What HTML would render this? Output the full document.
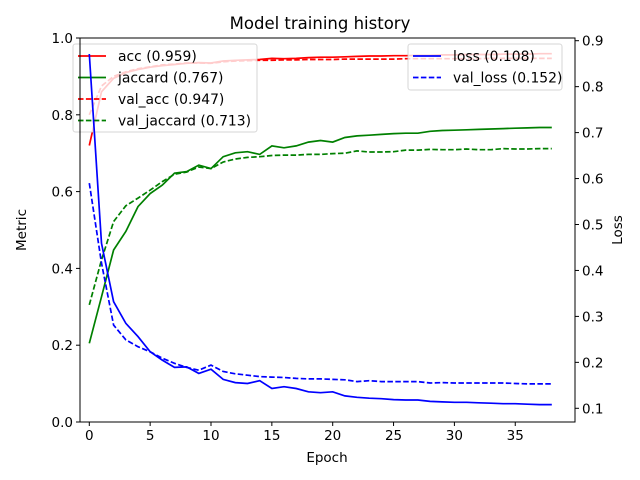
<!DOCTYPE html>
<html><head><meta charset="utf-8"><style>
body{margin:0;background:#fff;}
svg{display:block;font-family:"DejaVu Sans","Liberation Sans",sans-serif;}
</style></head><body>
<svg id="chart" width="640" height="480" viewBox="0 0 640 480">
<rect width="640" height="480" fill="#fff"/>
<text x="320" y="29" font-size="16.5" text-anchor="middle">Model training history</text>
<text x="327" y="462" font-size="13.5" text-anchor="middle">Epoch</text>
<text transform="translate(26,230) rotate(-90)" font-size="13.5" text-anchor="middle">Metric</text>
<text transform="translate(622,230) rotate(-90)" font-size="13.5" text-anchor="middle">Loss</text>
<g id="plot"></g>
</svg>
<script>
const epochs=[...Array(39).keys()];
const acc=[0.72,0.86,0.895,0.91,0.918,0.924,0.928,0.931,0.934,0.936,0.935,0.94,0.942,0.943,0.944,0.947,0.946,0.947,0.949,0.95,0.95,0.951,0.952,0.953,0.953,0.954,0.954,0.955,0.955,0.956,0.956,0.957,0.957,0.957,0.958,0.958,0.958,0.959,0.959];
const valAcc=[0.8,0.875,0.9,0.912,0.92,0.925,0.93,0.932,0.935,0.935,0.934,0.938,0.94,0.941,0.942,0.942,0.943,0.943,0.944,0.944,0.944,0.945,0.945,0.945,0.945,0.945,0.946,0.946,0.946,0.946,0.946,0.946,0.946,0.947,0.947,0.947,0.947,0.947,0.947];
const jaccard=[0.205,0.326,0.448,0.496,0.561,0.595,0.617,0.648,0.652,0.669,0.66,0.691,0.701,0.704,0.697,0.719,0.714,0.719,0.729,0.733,0.729,0.741,0.745,0.747,0.749,0.751,0.752,0.752,0.757,0.759,0.76,0.761,0.762,0.763,0.764,0.765,0.766,0.767,0.767];
const valJaccard=[0.305,0.422,0.522,0.563,0.583,0.604,0.626,0.645,0.651,0.664,0.66,0.677,0.685,0.689,0.691,0.694,0.695,0.695,0.697,0.697,0.699,0.7,0.706,0.703,0.703,0.704,0.708,0.708,0.71,0.709,0.709,0.711,0.709,0.709,0.712,0.711,0.711,0.712,0.712];
const loss=[0.871,0.459,0.332,0.285,0.256,0.223,0.205,0.189,0.19,0.176,0.185,0.163,0.156,0.154,0.16,0.143,0.147,0.143,0.136,0.134,0.136,0.127,0.124,0.122,0.121,0.119,0.118,0.118,0.115,0.114,0.113,0.113,0.112,0.111,0.110,0.110,0.109,0.108,0.108];
const valLoss=[0.59,0.416,0.281,0.249,0.234,0.223,0.209,0.198,0.189,0.183,0.194,0.18,0.175,0.172,0.169,0.168,0.167,0.165,0.164,0.164,0.163,0.162,0.158,0.16,0.158,0.158,0.158,0.158,0.155,0.156,0.155,0.155,0.155,0.155,0.155,0.154,0.153,0.153,0.153];
const xTicks=[0,5,10,15,20,25,30,35];
const yLeftTicks=[0,0.2,0.4,0.6,0.8,1.0];
const yRightTicks=[0.1,0.2,0.3,0.4,0.5,0.6,0.7,0.8,0.9];

const L=80,R=575,T=38,B=422;
const xS=v=>89.3+v*12.17;
const yL=v=>B-v*384;
const yR=v=>408.3-(v-0.1)*459.5;
const NS='http://www.w3.org/2000/svg';
const g=document.getElementById('plot');
function mk(tag,attrs,parent){const e=document.createElementNS(NS,tag);for(const k in attrs)e.setAttribute(k,attrs[k]);(parent||g).appendChild(e);return e;}
function line(data,ys,color,dash,name){
  const p=mk('polyline',{points:data.map((v,i)=>xS(epochs[i]).toFixed(1)+','+ys(v).toFixed(1)).join(' '),fill:'none',stroke:color,'stroke-width':1.7,'stroke-dasharray':dash?'5.5,2.4':'none'});
  
  
}
function legend(x,y,w,h,items,name){
  const lg=mk('g',{});
  
  
  mk('rect',{x:x,y:y,width:w,height:h,rx:2.5,fill:'#fff','fill-opacity':0.8,stroke:'#ccc','stroke-opacity':0.8},lg);
  items.forEach((it,i)=>{
    const cy=y+12+i*21.5;
    const l=mk('line',{x1:x+5,x2:x+33,y1:cy,y2:cy,stroke:it[1],'stroke-width':1.7,'stroke-dasharray':it[2]?'5.5,2.4':'none'},lg);
    
    
    const t=mk('text',{x:x+45,y:cy+5,'font-size':13.9},lg);
    t.textContent=it[0];
    
    
  });
}
line(acc,yL,'red',false,'acc-line');
line(jaccard,yL,'green',false,'jaccard-line');
line(valAcc,yL,'red',true,'val-acc-line');
line(valJaccard,yL,'green',true,'val-jaccard-line');
legend(73,44,184,88,[['acc (0.959)','red',false],['jaccard (0.767)','green',false],['val_acc (0.947)','red',true],['val_jaccard (0.713)','green',true]],'metric-legend');
line(loss,yR,'blue',false,'loss-line');
line(valLoss,yR,'blue',true,'val-loss-line');
legend(408,44,154,46,[['loss (0.108)','blue',false],['val_loss (0.152)','blue',true]],'loss-legend');
const fr=mk('rect',{x:L,y:T,width:R-L,height:B-T,fill:'none',stroke:'#000','stroke-width':1});


xTicks.forEach(v=>{
  mk('line',{x1:xS(v),x2:xS(v),y1:B,y2:B+4,stroke:'#000'});
  const t=mk('text',{x:xS(v),y:B+18,'font-size':13.5,'text-anchor':'middle'});t.textContent=v;
  
  
});
yLeftTicks.forEach(v=>{
  mk('line',{x1:L-4,x2:L,y1:yL(v),y2:yL(v),stroke:'#000'});
  const t=mk('text',{x:L-7,y:yL(v)+5,'font-size':13.5,'text-anchor':'end'});t.textContent=v.toFixed(1);
  
  
});
yRightTicks.forEach(v=>{
  mk('line',{x1:R,x2:R+4,y1:yR(v),y2:yR(v),stroke:'#000'});
  const t=mk('text',{x:R+7,y:yR(v)+5,'font-size':13.5,'text-anchor':'start'});t.textContent=v.toFixed(1);
  
  
});
</script>
</body></html>
